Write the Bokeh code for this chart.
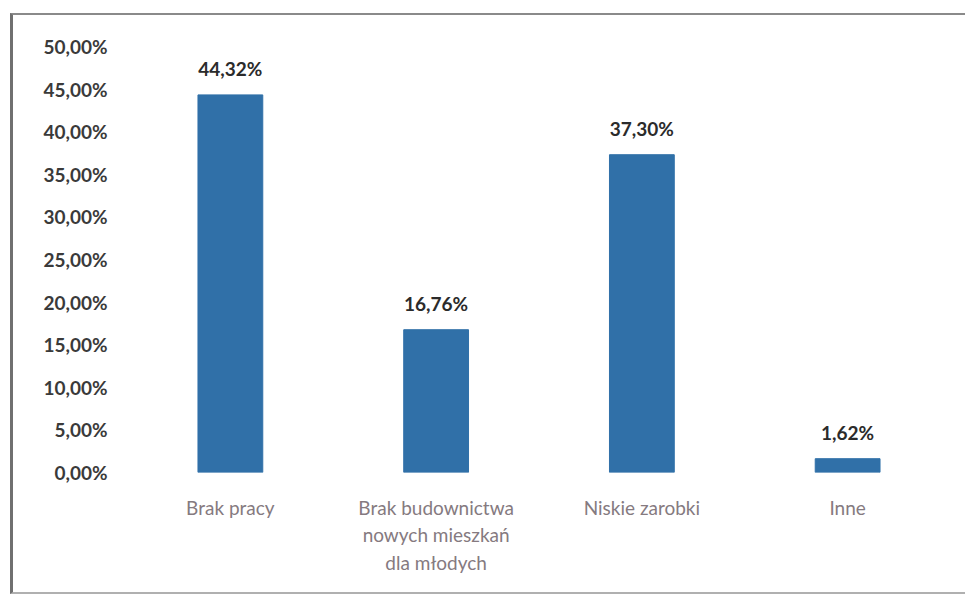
from bokeh.plotting import figure
from bokeh.models import ColumnDataSource, LabelSet, FixedTicker, CustomJSTickFormatter, Range1d
from bokeh.core.properties import value
from bokeh.embed import file_html
from bokeh.resources import INLINE

categories = ["Brak pracy", "Brak budownictwa\nnowych mieszkań\ndla młodych", "Niskie zarobki", "Inne"]
values = [44.32, 16.76, 37.30, 1.62]
value_labels = ["44,32%", "16,76%", "37,30%", "1,62%"]
y_ticks = [0, 5, 10, 15, 20, 25, 30, 35, 40, 45, 50]

src = ColumnDataSource(dict(cat=categories, val=values, lab=value_labels))

p = figure(x_range=categories, y_range=Range1d(0, 50), width=955, height=581,
           output_backend="svg", toolbar_location=None,
           min_border_left=114, min_border_right=18, min_border_top=31, min_border_bottom=124)
p.styles = {"border-style": "solid none solid solid",
            "border-width": "2px 0px 2px 3px",
            "border-color": "#8a8a8a #ffffff #b0b0b0 #707070",
            "margin-top": "13px", "margin-left": "10px"}

p.vbar(x="cat", top="val", width=0.315, source=src, color="#3070a8")

labels = LabelSet(x="cat", y="val", text="lab", source=src, y_offset=15,
                  text_align="center", text_baseline="bottom",
                  text_font=value("Lato"), text_font_size=value("19px"), text_font_style="bold",
                  text_color="#2b2b2b")
p.add_layout(labels)

p.xgrid.visible = False
p.ygrid.visible = False
p.outline_line_color = None

p.yaxis.ticker = FixedTicker(ticks=y_ticks)
p.yaxis.formatter = CustomJSTickFormatter(code="return tick.toFixed(2).replace('.', ',') + '%';")
p.yaxis.axis_line_color = None
p.yaxis.major_tick_line_color = None
p.yaxis.minor_tick_line_color = None
p.yaxis.major_label_text_font = "Lato"
p.yaxis.major_label_text_font_size = "19px"
p.yaxis.major_label_text_font_style = "bold"
p.yaxis.major_label_text_color = "#3a3a3a"
p.yaxis.major_label_standoff = 14

p.xaxis.axis_line_color = None
p.xaxis.major_tick_line_color = None
p.xaxis.minor_tick_line_color = None
p.xaxis.major_label_text_font = "Lato"
p.xaxis.major_label_text_font_size = "19px"
p.xaxis.major_label_text_color = "#857a80"
p.xaxis.major_label_standoff = 17
p.x_range.range_padding = 0

open("out.html", "w").write(file_html(p, INLINE))
